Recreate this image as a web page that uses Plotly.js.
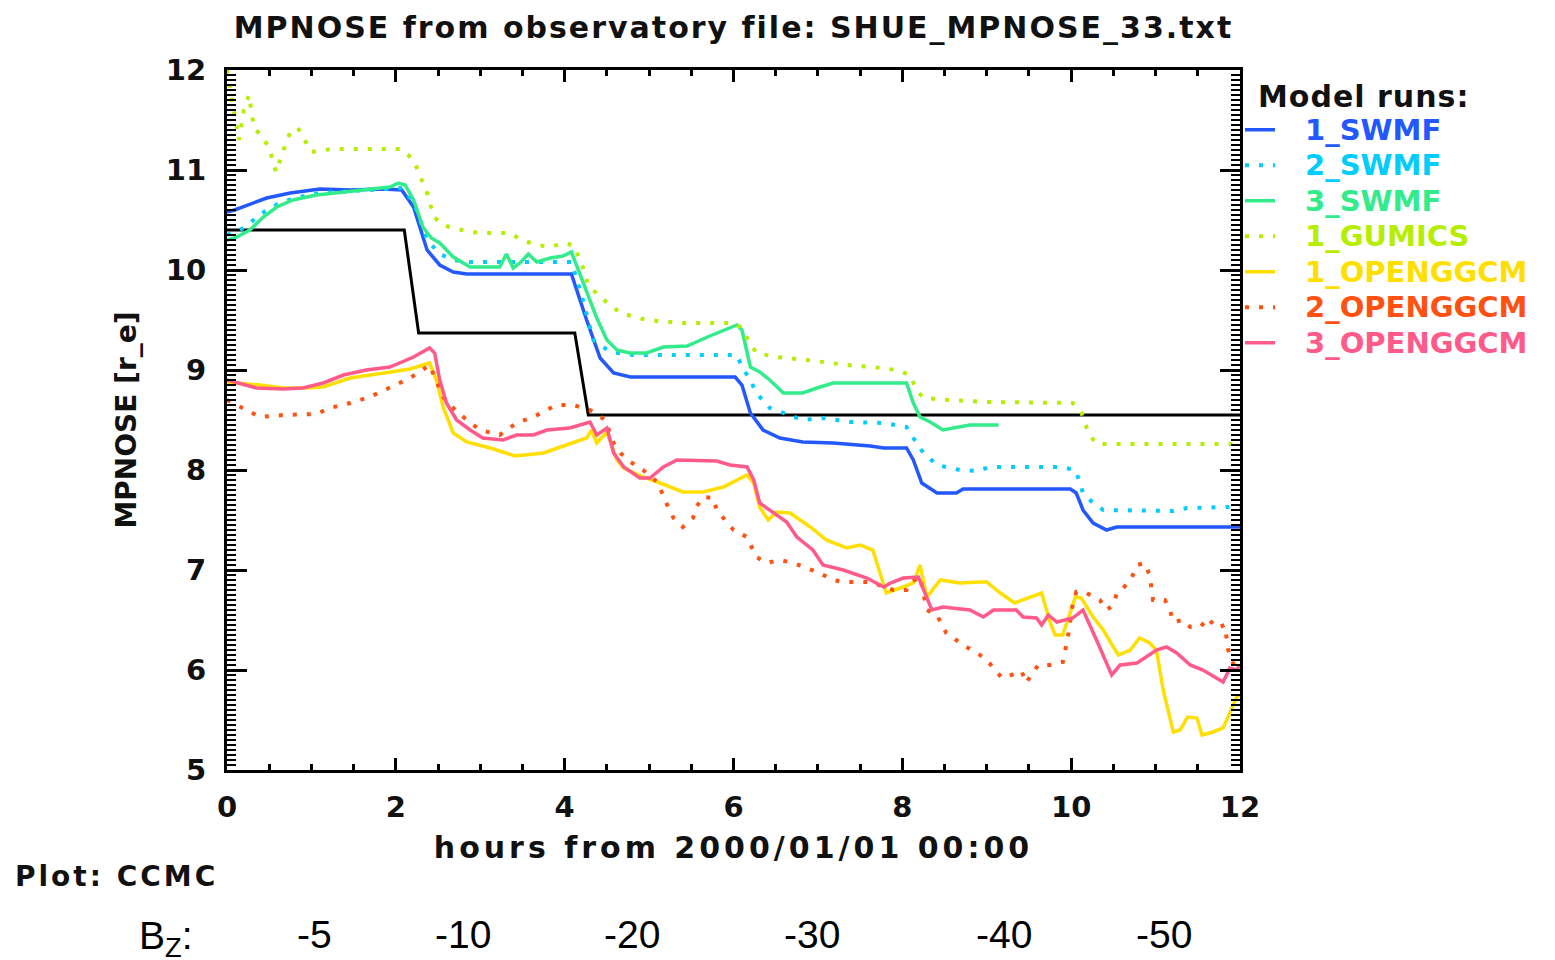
<!DOCTYPE html>
<html>
<head>
<meta charset="utf-8">
<script src="https://cdn.plot.ly/plotly-3.0.1.min.js"></script>
<style>
html,body{margin:0;padding:0;background:#fff;}
#chart{width:1555px;height:960px;}
.gtitle{letter-spacing:2px;}
.xtitle{letter-spacing:4px;}
.legendtitletext{letter-spacing:1px;}
.annotation[data-index="0"] text{letter-spacing:3px;}
</style>
</head>
<body>
<div id="chart"></div>
<script>
// ---------------- data ----------------
const obsHours = [0, 2.10, 2.27, 4.12, 4.28, 12];
const obsNose  = [10.40, 10.40, 9.37, 9.37, 8.55, 8.55];

const swmf1Hours = [0, 0.09, 0.47, 0.75, 1.10, 1.46, 1.85, 2.07, 2.21, 2.37, 2.52, 2.68, 2.84, 4.08, 4.26, 4.42, 4.58, 4.78, 6.02, 6.10, 6.20, 6.35, 6.55, 6.82, 7.18, 7.62, 7.78, 8.05, 8.13, 8.23, 8.41, 8.64, 8.72, 9.99, 10.06, 10.14, 10.26, 10.42, 10.54, 12];
const swmf1Nose  = [10.58, 10.60, 10.72, 10.77, 10.81, 10.80, 10.81, 10.80, 10.63, 10.20, 10.05, 9.98, 9.96, 9.96, 9.50, 9.12, 8.97, 8.93, 8.93, 8.85, 8.57, 8.40, 8.32, 8.28, 8.27, 8.24, 8.22, 8.22, 8.10, 7.87, 7.77, 7.77, 7.81, 7.81, 7.77, 7.60, 7.47, 7.40, 7.43, 7.43];

const swmf2Hours = [0, 0.2, 0.4, 0.6, 0.8, 1.1, 1.5, 1.9, 2.08, 2.22, 2.37, 2.52, 2.68, 2.88, 4.08, 4.2, 4.34, 4.54, 4.81, 6.04, 6.10, 6.20, 6.27, 6.43, 6.59, 6.82, 7.06, 7.38, 7.78, 8.05, 8.13, 8.25, 8.41, 8.68, 8.88, 9.04, 9.87, 10.05, 10.10, 10.14, 10.26, 10.38, 11.21, 11.37, 11.88, 12];
const swmf2Nose  = [10.35, 10.42, 10.56, 10.66, 10.72, 10.77, 10.79, 10.81, 10.82, 10.66, 10.30, 10.16, 10.10, 10.08, 10.08, 9.75, 9.30, 9.18, 9.15, 9.15, 9.03, 8.90, 8.77, 8.62, 8.57, 8.50, 8.52, 8.48, 8.47, 8.43, 8.32, 8.17, 8.05, 8.00, 7.99, 8.03, 8.03, 8.00, 7.88, 7.77, 7.67, 7.60, 7.59, 7.62, 7.63, 7.63];

const swmf3Hours = [0, 0.09, 0.27, 0.43, 0.59, 0.78, 1.06, 1.38, 1.69, 1.93, 2.03, 2.11, 2.21, 2.32, 2.42, 2.52, 2.68, 2.88, 3.23, 3.31, 3.39, 3.47, 3.57, 3.67, 3.83, 3.98, 4.08, 4.22, 4.38, 4.50, 4.62, 4.77, 4.97, 5.17, 5.45, 5.72, 6.04, 6.10, 6.20, 6.31, 6.43, 6.59, 6.82, 6.99, 7.18, 8.05, 8.13, 8.21, 8.33, 8.48, 8.68, 8.80, 9.14];
const swmf3Nose  = [10.30, 10.32, 10.40, 10.53, 10.63, 10.70, 10.75, 10.78, 10.81, 10.83, 10.87, 10.85, 10.70, 10.43, 10.32, 10.27, 10.13, 10.03, 10.03, 10.16, 10.02, 10.07, 10.16, 10.08, 10.12, 10.14, 10.18, 9.88, 9.52, 9.30, 9.20, 9.17, 9.17, 9.23, 9.24, 9.34, 9.45, 9.40, 9.03, 8.98, 8.90, 8.77, 8.77, 8.82, 8.87, 8.87, 8.67, 8.53, 8.48, 8.40, 8.43, 8.45, 8.45];

const gumicsHours = [0, 0.06, 0.14, 0.2, 0.26, 0.32, 0.42, 0.5, 0.58, 0.67, 0.75, 0.84, 0.92, 1.0, 1.24, 2.07, 2.21, 2.29, 2.37, 2.45, 2.56, 2.68, 2.88, 3.03, 3.35, 3.49, 3.67, 3.83, 3.98, 4.10, 4.20, 4.28, 4.42, 4.66, 4.97, 5.40, 6.00, 6.08, 6.20, 6.27, 6.51, 6.87, 7.34, 7.65, 7.93, 8.09, 8.17, 8.25, 8.56, 9.0, 10.02, 10.12, 10.16, 10.22, 10.30, 12];
const gumicsNose  = [12.0, 11.7, 11.3, 11.6, 11.75, 11.42, 11.33, 11.22, 10.98, 11.2, 11.38, 11.42, 11.3, 11.18, 11.21, 11.21, 11.1, 10.93, 10.77, 10.53, 10.45, 10.42, 10.38, 10.37, 10.37, 10.30, 10.25, 10.23, 10.27, 10.25, 10.07, 9.85, 9.73, 9.57, 9.50, 9.47, 9.47, 9.43, 9.27, 9.17, 9.13, 9.10, 9.05, 9.03, 9.0, 8.95, 8.80, 8.72, 8.70, 8.68, 8.67, 8.58, 8.47, 8.35, 8.26, 8.26];

const ggcm1Hours = [0, 0.09, 0.39, 0.67, 0.90, 1.14, 1.46, 1.85, 2.17, 2.40, 2.48, 2.56, 2.68, 2.84, 3.12, 3.41, 3.75, 4.02, 4.26, 4.32, 4.38, 4.50, 4.62, 4.70, 4.93, 5.13, 5.40, 5.64, 5.88, 6.16, 6.24, 6.31, 6.41, 6.51, 6.67, 6.91, 7.10, 7.34, 7.50, 7.65, 7.74, 7.81, 8.01, 8.13, 8.21, 8.29, 8.45, 8.68, 8.92, 9.0, 9.16, 9.33, 9.65, 9.75, 9.81, 9.90, 10.05, 10.12, 10.26, 10.38, 10.50, 10.56, 10.70, 10.81, 10.93, 11.01, 11.09, 11.21, 11.29, 11.38, 11.49, 11.55, 11.68, 11.80, 11.88, 11.96, 12];
const ggcm1Nose  = [8.88, 8.87, 8.85, 8.82, 8.82, 8.83, 8.92, 8.97, 9.01, 9.07, 8.90, 8.63, 8.37, 8.28, 8.22, 8.14, 8.17, 8.25, 8.32, 8.40, 8.27, 8.38, 8.10, 8.02, 7.93, 7.87, 7.78, 7.78, 7.83, 7.95, 7.87, 7.63, 7.50, 7.58, 7.57, 7.43, 7.30, 7.22, 7.25, 7.20, 6.97, 6.77, 6.83, 6.87, 7.05, 6.73, 6.90, 6.87, 6.88, 6.88, 6.77, 6.67, 6.77, 6.48, 6.35, 6.35, 6.73, 6.72, 6.53, 6.40, 6.23, 6.15, 6.20, 6.32, 6.27, 6.20, 5.80, 5.38, 5.40, 5.53, 5.52, 5.35, 5.38, 5.42, 5.57, 5.73, 5.75];

const ggcm2Hours = [0, 0.23, 0.39, 0.67, 1.06, 1.22, 1.46, 1.69, 1.93, 2.17, 2.40, 2.56, 2.68, 2.84, 3.0, 3.23, 3.43, 3.63, 3.90, 4.10, 4.30, 4.48, 4.58, 4.66, 4.78, 4.93, 5.11, 5.17, 5.29, 5.40, 5.52, 5.56, 5.64, 5.76, 5.80, 5.90, 6.0, 6.16, 6.27, 6.39, 6.55, 6.71, 6.87, 7.02, 7.18, 7.30, 7.62, 7.78, 7.89, 8.05, 8.09, 8.21, 8.29, 8.41, 8.52, 8.72, 8.86, 8.98, 9.08, 9.18, 9.29, 9.41, 9.47, 9.51, 9.61, 9.75, 9.90, 9.96, 10.02, 10.06, 10.18, 10.34, 10.42, 10.50, 10.54, 10.62, 10.72, 10.78, 10.87, 10.93, 10.97, 11.11, 11.17, 11.21, 11.33, 11.41, 11.53, 11.62, 11.72, 11.82, 11.86, 11.94, 12];
const ggcm2Nose  = [8.70, 8.60, 8.53, 8.55, 8.56, 8.62, 8.67, 8.73, 8.82, 8.92, 9.05, 8.73, 8.62, 8.50, 8.40, 8.35, 8.47, 8.53, 8.65, 8.65, 8.60, 8.50, 8.27, 8.17, 8.08, 8.00, 7.87, 7.73, 7.52, 7.43, 7.52, 7.63, 7.73, 7.72, 7.60, 7.50, 7.40, 7.33, 7.13, 7.07, 7.10, 7.07, 7.02, 6.97, 6.90, 6.88, 6.88, 6.83, 6.80, 6.80, 6.87, 6.93, 6.60, 6.55, 6.37, 6.25, 6.18, 6.12, 6.02, 5.92, 5.95, 5.99, 5.87, 5.93, 6.05, 6.05, 6.08, 6.32, 6.67, 6.78, 6.77, 6.70, 6.60, 6.65, 6.77, 6.82, 6.93, 7.05, 7.07, 6.95, 6.70, 6.70, 6.60, 6.48, 6.50, 6.43, 6.43, 6.52, 6.42, 6.45, 6.20, 6.02, 6.05];

const ggcm3Hours = [0, 0.09, 0.35, 0.67, 0.90, 1.14, 1.38, 1.65, 1.93, 2.21, 2.40, 2.46, 2.52, 2.60, 2.72, 2.88, 3.03, 3.27, 3.43, 3.63, 3.79, 4.06, 4.30, 4.38, 4.50, 4.58, 4.70, 4.89, 5.01, 5.17, 5.33, 5.80, 5.96, 6.16, 6.24, 6.31, 6.47, 6.63, 6.75, 6.94, 7.06, 7.30, 7.58, 7.78, 7.86, 8.01, 8.19, 8.27, 8.35, 8.48, 8.80, 8.96, 9.08, 9.35, 9.43, 9.59, 9.65, 9.73, 9.83, 10.02, 10.14, 10.30, 10.48, 10.58, 10.78, 11.01, 11.13, 11.25, 11.41, 11.56, 11.72, 11.80, 11.88, 11.96, 12];
const ggcm3Nose  = [8.90, 8.88, 8.82, 8.81, 8.82, 8.87, 8.95, 9.00, 9.03, 9.13, 9.22, 9.17, 8.90, 8.67, 8.50, 8.40, 8.32, 8.30, 8.35, 8.35, 8.40, 8.42, 8.48, 8.35, 8.42, 8.17, 8.03, 7.92, 7.92, 8.03, 8.10, 8.09, 8.05, 8.03, 7.90, 7.67, 7.57, 7.48, 7.33, 7.20, 7.05, 7.00, 6.92, 6.83, 6.87, 6.92, 6.93, 6.77, 6.60, 6.63, 6.60, 6.53, 6.60, 6.60, 6.53, 6.52, 6.45, 6.55, 6.48, 6.52, 6.60, 6.30, 5.95, 6.05, 6.07, 6.20, 6.23, 6.17, 6.05, 6.00, 5.92, 5.88, 6.02, 6.00, 6.05];

const runNames = ['1_SWMF', '2_SWMF', '3_SWMF', '1_GUMICS', '1_OPENGGCM', '2_OPENGGCM', '3_OPENGGCM'];
const bzValues = [-5, -10, -20, -30, -40, -50];
const bzLabelHours = [1.04, 2.80, 4.80, 6.93, 9.21, 11.10];

// ---------------- styling ----------------
const runColors = ['#2358ff', '#00cdfb', '#32ec8c', '#b6ee00', '#ffdf00', '#ff5212', '#ff5a8a'];
const runDash = ['solid', '4px,10px', 'solid', '4px,10px', 'solid', '4px,10px', 'solid'];
const runHours = [swmf1Hours, swmf2Hours, swmf3Hours, gumicsHours, ggcm1Hours, ggcm2Hours, ggcm3Hours];
const runNose = [swmf1Nose, swmf2Nose, swmf3Nose, gumicsNose, ggcm1Nose, ggcm2Nose, ggcm3Nose];

const IDL = 'DejaVu Sans';
const INK = '#111111';
const L = 227, R = 1240, T = 70, B = 770;
const pxX = px => (px - L) / (R - L);
const pxY = py => (B - py) / (B - T);

const traces = [{
  x: obsHours, y: obsNose, mode: 'lines', name: 'observed',
  line: {color: '#000000', width: 3}, showlegend: false
}];
runNames.forEach((n, i) => {
  traces.push({
    x: runHours[i], y: runNose[i], mode: 'lines',
    name: '\u2003<span style="color:' + runColors[i] + ';font-size:29px">' + n + '</span>',
    line: {color: runColors[i], width: runDash[i] === 'solid' ? 3.5 : 4, dash: runDash[i]}
  });
});

const annotations = [
  {text: 'Plot: CCMC', xref: 'paper', yref: 'paper', x: pxX(28), y: pxY(876),
   xanchor: 'left', yanchor: 'middle', showarrow: false,
   font: {family: IDL, weight: 'bold', size: 28, color: INK}},
  {text: 'B<sub>Z</sub>:', xref: 'paper', yref: 'paper', x: pxX(137), y: pxY(938),
   xanchor: 'left', yanchor: 'middle', showarrow: false,
   font: {family: 'Liberation Sans', size: 39, color: '#000'}}
];
bzValues.forEach((v, i) => {
  annotations.push({text: String(v), xref: 'x', yref: 'paper', x: bzLabelHours[i], y: pxY(934),
    xanchor: 'center', yanchor: 'middle', showarrow: false,
    font: {family: 'Liberation Sans', size: 39, color: '#000'}});
});

const layout = {
  width: 1555, height: 960,
  paper_bgcolor: '#ffffff', plot_bgcolor: '#ffffff',
  margin: {l: L, r: 1555 - R, t: T, b: 960 - B, pad: 0},
  showlegend: true,
  title: {
    text: 'MPNOSE from observatory file: SHUE_MPNOSE_33.txt',
    font: {family: IDL, weight: 'bold', size: 30, color: INK},
    xref: 'paper', x: 0.5, xanchor: 'center',
    yref: 'container', y: 1 - 27 / 960, yanchor: 'middle'
  },
  xaxis: {
    range: [0, 12], tick0: 0, dtick: 2, ticks: 'inside', ticklen: 12, tickwidth: 3, tickcolor: '#000',
    showline: true, linewidth: 3, linecolor: '#000', mirror: 'allticks',
    showgrid: false, zeroline: false, ticklabelstandoff: 9,
    minor: {dtick: 0.5, ticks: 'inside', ticklen: 6, tickwidth: 3, tickcolor: '#000'},
    tickfont: {family: IDL, weight: 'bold', size: 29, color: INK},
    title: {text: 'hours from 2000/01/01 00:00', standoff: 15,
            font: {family: IDL, weight: 'bold', size: 30, color: INK}}
  },
  yaxis: {
    range: [5, 12], tick0: 5, dtick: 1, ticks: 'inside', ticklen: 20, tickwidth: 3, tickcolor: '#000',
    showline: true, linewidth: 3, linecolor: '#000', mirror: 'allticks',
    showgrid: false, zeroline: false, ticklabelstandoff: 12,
    minor: {dtick: 0.05, ticks: 'inside', ticklen: 9, tickwidth: 2.5, tickcolor: '#000'},
    tickfont: {family: IDL, weight: 'bold', size: 29, color: INK},
    title: {text: 'MPNOSE [r_e]', standoff: 22,
            font: {family: IDL, weight: 'bold', size: 28, color: INK}}
  },
  legend: {
    x: 1, xref: 'paper', xanchor: 'left', y: pxY(68), yref: 'paper', yanchor: 'top',
    bgcolor: 'rgba(0,0,0,0)', borderwidth: 0, itemwidth: 30, tracegroupgap: 0,
    font: {family: IDL, weight: 'bold', size: 25, color: INK},
    title: {text: '\u2002Model runs:', side: 'top',
            font: {family: IDL, weight: 'bold', size: 30, color: INK}}
  },
  annotations: annotations
};

Plotly.newPlot('chart', traces, layout, {staticPlot: true, displayModeBar: false});
</script>
</body>
</html>
